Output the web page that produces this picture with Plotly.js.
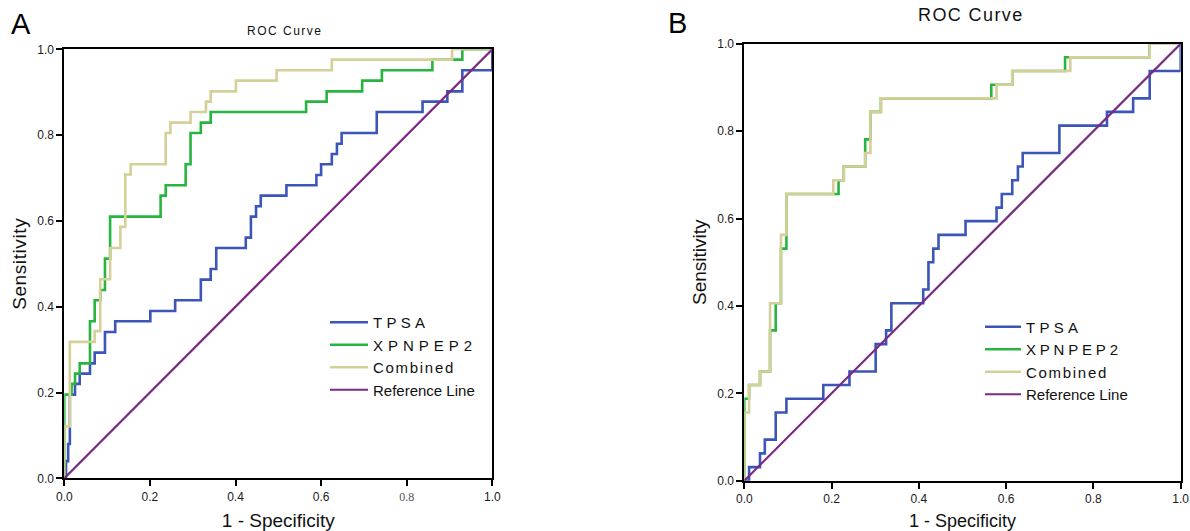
<!DOCTYPE html>
<html>
<head>
<meta charset="utf-8">
<script src="https://cdn.plot.ly/plotly-3.0.1.min.js"></script>
<style>html,body{margin:0;padding:0;background:#fff;}#chart{width:1190px;height:531px;}</style>
</head>
<body>
<div id="chart"></div>
<script>
// ---------- Panel A data (1 - Specificity, Sensitivity), step corners ----------
const tpsaA_x = [0, 0.004, 0.009, 0.013, 0.013, 0.025, 0.036, 0.060, 0.071, 0.095, 0.119, 0.201, 0.259, 0.319, 0.342, 0.355, 0.424, 0.436, 0.448, 0.459, 0.519, 0.589, 0.600, 0.625, 0.637, 0.648, 0.730, 0.837, 0.895, 0.930, 1.0];
const tpsaA_y = [0, 0.04, 0.08, 0.12, 0.195, 0.220, 0.244, 0.268, 0.293, 0.341, 0.366, 0.390, 0.415, 0.463, 0.488, 0.537, 0.561, 0.610, 0.634, 0.659, 0.683, 0.707, 0.732, 0.756, 0.780, 0.805, 0.854, 0.878, 0.902, 0.951, 1.0];
const xpnA_x = [0, 0, 0.017, 0.025, 0.036, 0.060, 0.071, 0.084, 0.095, 0.107, 0.225, 0.237, 0.2835, 0.295, 0.319, 0.342, 0.565, 0.613, 0.696, 0.742, 0.860, 0.930, 1.0];
const xpnA_y = [0, 0.195, 0.220, 0.244, 0.268, 0.366, 0.415, 0.439, 0.512, 0.610, 0.659, 0.683, 0.732, 0.805, 0.829, 0.854, 0.878, 0.902, 0.927, 0.951, 0.976, 1.0, 1.0];
const combA_x = [0, 0, 0.013, 0.071, 0.084, 0.107, 0.131, 0.1425, 0.155, 0.237, 0.248, 0.295, 0.331, 0.342, 0.401, 0.496, 0.625, 0.906, 1.0];
const combA_y = [0, 0.121, 0.318, 0.343, 0.464, 0.537, 0.586, 0.708, 0.732, 0.805, 0.829, 0.854, 0.878, 0.902, 0.927, 0.951, 0.976, 1.0, 1.0];

// ---------- Panel B data ----------
const tpsaB_x = [0, 0.011, 0.036, 0.047, 0.072, 0.0965, 0.181, 0.241, 0.301, 0.325, 0.337, 0.410, 0.422, 0.433, 0.445, 0.507, 0.578, 0.590, 0.614, 0.627, 0.638, 0.722, 0.831, 0.891, 0.929, 1.0];
const tpsaB_y = [0, 0.031, 0.0625, 0.094, 0.156, 0.1875, 0.219, 0.25, 0.3125, 0.344, 0.406, 0.4375, 0.5, 0.531, 0.5625, 0.594, 0.625, 0.656, 0.6875, 0.719, 0.75, 0.8125, 0.844, 0.875, 0.9375, 1.0];
const xpnB_x = [0, 0, 0.011, 0.036, 0.059, 0.072, 0.084, 0.0965, 0.216, 0.228, 0.277, 0.289, 0.313, 0.566, 0.614, 0.735, 0.929, 1.0];
const xpnB_y = [0, 0.1875, 0.219, 0.25, 0.344, 0.406, 0.531, 0.656, 0.6875, 0.719, 0.781, 0.844, 0.875, 0.906, 0.9375, 0.969, 1.0, 1.0];
const combB_x = [0, 0, 0.011, 0.036, 0.059, 0.084, 0.0965, 0.204, 0.228, 0.277, 0.289, 0.313, 0.578, 0.614, 0.747, 0.929, 1.0];
const combB_y = [0, 0.156, 0.219, 0.25, 0.406, 0.5625, 0.656, 0.6875, 0.719, 0.75, 0.844, 0.875, 0.906, 0.9375, 0.969, 1.0, 1.0];

// Reference line
const refX = [0, 1];
const refY = [0, 1];

// Tick labels
const tickVals = [0, 0.2, 0.4, 0.6, 0.8, 1.0];
const tickText = ['0.0', '0.2', '0.4', '0.6', '0.8', '1.0'];
const tickTextA_x = ['0.0', '0.2', '0.4', '0.6', '<span style="font-family:Liberation Serif;color:#555">0.8</span>', '1.0'];

const seriesNames = ['TPSA', 'XPNPEP2', 'Combined', 'Reference Line'];
const colors = ['#3b55b8', '#27b53f', '#d5cf98', '#7a2a84'];

function legendLabel(name, ls) {
  return ls ? '<span style="letter-spacing:' + ls + 'px">' + name + '</span>' : name;
}
const lsA = [4.3, 5, 1.7, 0];
const lsB = [4.3, 3.8, 1.7, 0];

function mk(x, y, i, xa, ya, leg, ls) {
  return {
    x: x, y: y, xaxis: xa, yaxis: ya, type: 'scatter', mode: 'lines',
    line: {color: colors[i], width: i === 3 ? 2.2 : 2.6, shape: i === 3 ? 'linear' : 'hv'},
    name: legendLabel(seriesNames[i], ls[i]), legend: leg, hoverinfo: 'skip'
  };
}

const data = [
  mk(tpsaA_x, tpsaA_y, 0, 'x', 'y', 'legend', lsA),
  mk(xpnA_x, xpnA_y, 1, 'x', 'y', 'legend', lsA),
  mk(combA_x, combA_y, 2, 'x', 'y', 'legend', lsA),
  mk(refX, refY, 3, 'x', 'y', 'legend', lsA),
  mk(tpsaB_x, tpsaB_y, 0, 'x2', 'y2', 'legend2', lsB),
  mk(xpnB_x, xpnB_y, 1, 'x2', 'y2', 'legend2', lsB),
  mk(combB_x, combB_y, 2, 'x2', 'y2', 'legend2', lsB),
  mk(refX, refY, 3, 'x2', 'y2', 'legend2', lsB)
];

const W = 1190, H = 531;
function px(v) { return v / W; }
function py(v) { return (H - v) / H; }

const axBase = {
  range: [0, 1], showgrid: false, zeroline: false, showline: true, mirror: true,
  linecolor: '#000', linewidth: 2, ticks: 'outside', ticklen: 6, tickwidth: 2, tickcolor: '#000',
  tickmode: 'array', tickvals: tickVals, ticktext: tickText, fixedrange: true,
  tickfont: {size: 12, color: '#1a1a1a', family: 'Liberation Sans, Arial, sans-serif'}
};

const layout = {
  width: W, height: H, margin: {l: 0, r: 0, t: 0, b: 0},
  paper_bgcolor: '#fff', plot_bgcolor: '#fff',
  font: {family: 'Liberation Sans, Arial, sans-serif', color: '#111'},
  showlegend: true,
  xaxis: Object.assign({}, axBase, {
    domain: [px(64.3), px(492.3)], anchor: 'y', ticktext: tickTextA_x,
    title: {text: '1 - Specificity', font: {size: 19, color: '#111'}, standoff: 12}
  }),
  yaxis: Object.assign({}, axBase, {
    domain: [py(478.3), py(49.3)], anchor: 'x',
    title: {text: '<span style="letter-spacing:0.6px">Sensitivity</span>', font: {size: 19, color: '#111'}, standoff: 6}
  }),
  xaxis2: Object.assign({}, axBase, {
    domain: [px(744.3), px(1180.7)], anchor: 'y2',
    title: {text: '1 - Specificity', font: {size: 18, color: '#111'}, standoff: 12}
  }),
  yaxis2: Object.assign({}, axBase, {
    domain: [py(480.7), py(43.7)], anchor: 'x2',
    title: {text: 'Sensitivity', font: {size: 19, color: '#111'}, standoff: 6}
  }),
  legend: {
    x: px(325), y: py(306), xanchor: 'left', yanchor: 'top', bgcolor: 'rgba(0,0,0,0)',
    borderwidth: 0, font: {size: 15, color: '#111'}, itemwidth: 38, traceorder: 'normal'
  },
  legend2: {
    x: px(980), y: py(310.5), xanchor: 'left', yanchor: 'top', bgcolor: 'rgba(0,0,0,0)',
    borderwidth: 0, font: {size: 15, color: '#111'}, itemwidth: 36, traceorder: 'normal'
  },
  annotations: [
    {text: '<span style="letter-spacing:1.5px">ROC Curve</span>', x: px(285), y: py(31), xref: 'paper', yref: 'paper',
     showarrow: false, xanchor: 'center', yanchor: 'middle', font: {size: 12, color: '#111'}},
    {text: '<span style="letter-spacing:1.4px">ROC Curve</span>', x: px(971), y: py(15), xref: 'paper', yref: 'paper',
     showarrow: false, xanchor: 'center', yanchor: 'middle', font: {size: 18, color: '#111'}},
    {text: 'A', x: px(20.5), y: py(23.5), xref: 'paper', yref: 'paper',
     showarrow: false, xanchor: 'center', yanchor: 'middle', font: {size: 29, color: '#000'}},
    {text: 'B', x: px(677), y: py(23), xref: 'paper', yref: 'paper',
     showarrow: false, xanchor: 'center', yanchor: 'middle', font: {size: 29, color: '#000'}}
  ]
};

Plotly.newPlot('chart', data, layout, {displayModeBar: false, staticPlot: true});
</script>
</body>
</html>
